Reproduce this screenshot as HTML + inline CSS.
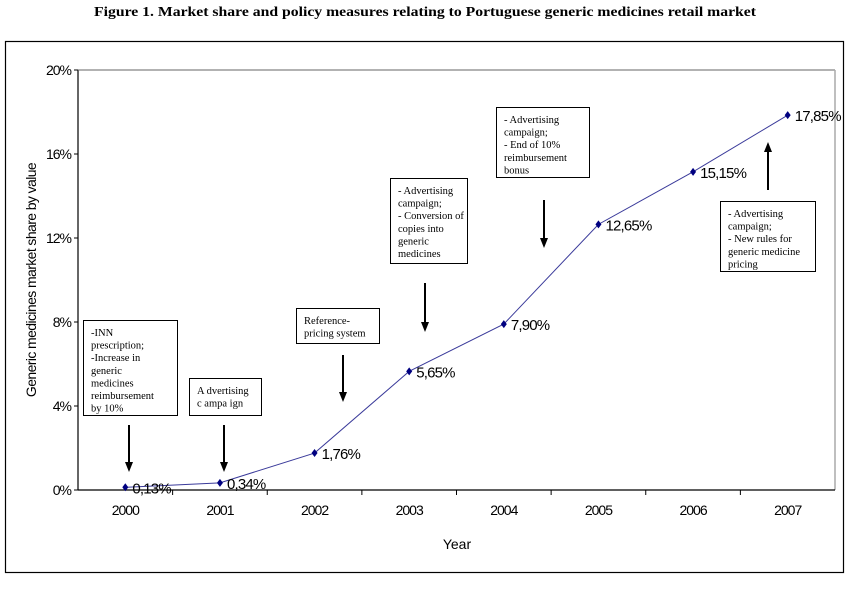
<!DOCTYPE html>
<html><head><meta charset="utf-8"><style>
body{margin:0;background:#fff;width:850px;height:596px;overflow:hidden}
svg text{font-family:"Liberation Sans",sans-serif}
.ser{font-family:"Liberation Serif",serif}
</style></head><body>
<svg id="c" width="850" height="596" xmlns="http://www.w3.org/2000/svg">
<text x="425" y="16" text-anchor="middle" class="ser" font-size="14" font-weight="bold" textLength="662" lengthAdjust="spacingAndGlyphs">Figure 1. Market share and policy measures relating to Portuguese generic medicines retail market</text>
<rect x="5.5" y="41.5" width="838" height="531" fill="none" stroke="#000" stroke-width="1.2"/>
<g id="axes"></g>
<g id="notes"></g>
<g id="series"></g>
</svg>
<script>
const categories=["2000","2001","2002","2003","2004","2005","2006","2007"];
const shareValues=[0.13,0.34,1.76,5.65,7.90,12.65,15.15,17.85];
const valueLabels=["0,13%","0,34%","1,76%","5,65%","7,90%","12,65%","15,15%","17,85%"];
const yTicks=[0,4,8,12,16,20];
const yTickLabels=["0%","4%","8%","12%","16%","20%"];
const NS="http://www.w3.org/2000/svg";
const L=78,R=835,T=70,B=490;
const bw=(R-L)/categories.length;
function xS(i){return L+bw*(i+0.5);}
function yS(v){return B-(v/20)*(B-T);}
function mk(tag,at,parent,txt){const e=document.createElementNS(NS,tag);for(const k in at)e.setAttribute(k,at[k]);if(txt!==undefined)e.textContent=txt;parent.appendChild(e);return e;}
const ax=document.getElementById('axes');
let e=mk('line',{x1:L,y1:T,x2:R,y2:T,stroke:'#999','stroke-width':1.5},ax);


e=mk('line',{x1:R,y1:T,x2:R,y2:B,stroke:'#aaa','stroke-width':1.5},ax);


e=mk('line',{x1:L,y1:T,x2:L,y2:B,stroke:'#666','stroke-width':2},ax);


e=mk('line',{x1:L,y1:B,x2:R,y2:B,stroke:'#000','stroke-width':1.2},ax);


yTicks.forEach((v,i)=>{
 let t=mk('line',{x1:L-4,y1:yS(v),x2:L,y2:yS(v),stroke:'#000'},ax);
 
 
 let l=mk('text',{x:L-7,y:yS(v)+5,'text-anchor':'end','font-size':14,'letter-spacing':'-1'},ax,yTickLabels[i]);
 
 
});
categories.forEach((c,i)=>{
 if(i>0){let t=mk('line',{x1:L+bw*i,y1:B,x2:L+bw*i,y2:B+5,stroke:'#000'},ax);
 
 }
 let l=mk('text',{x:xS(i),y:B+25,'text-anchor':'middle','font-size':14,'letter-spacing':'-1'},ax,c);
 
 
});
e=mk('text',{x:457,y:549,'text-anchor':'middle','font-size':14},ax,'Year');


e=mk('text',{transform:'translate(36,280) rotate(-90)','text-anchor':'middle','font-size':14,'letter-spacing':'-0.6'},ax,'Generic medicines market share by value');


const notes=[
 {x:83,y:320,w:94,h:95,lines:["-INN","prescription;","-Increase in","generic","medicines","reimbursement","by 10%"],ax:129,a1:425,a2:472,dir:1},
 {x:189,y:378,w:72,h:37,lines:["A dvertising","c ampa ign"],ax:224,a1:425,a2:472,dir:1},
 {x:296,y:308,w:83,h:35,lines:["Reference-","pricing system"],ax:343,a1:355,a2:402,dir:1},
 {x:390,y:178,w:77,h:85,lines:["- Advertising","campaign;","- Conversion of","copies into","generic","medicines"],ax:425,a1:283,a2:332,dir:1},
 {x:496,y:107,w:93,h:70,lines:["- Advertising","campaign;","- End of 10%","reimbursement","bonus"],ax:544,a1:200,a2:248,dir:1},
 {x:720,y:201,w:95,h:70,lines:["- Advertising","campaign;","- New rules for","generic medicine","pricing"],ax:768,a1:190,a2:142,dir:-1}
];
const ng=document.getElementById('notes');
notes.forEach(n=>{
 let r=mk('rect',{x:n.x+0.5,y:n.y+0.5,width:n.w,height:n.h,fill:'#fff',stroke:'#000','stroke-width':1},ng);
 
 
 n.lines.forEach((s,j)=>{let t=mk('text',{x:n.x+8,y:n.y+16+j*12.6,'font-size':10.5,class:'ser'},ng,s);
 
 });
 let tip=n.a2, base=n.a1;
 let a=mk('line',{x1:n.ax,y1:base,x2:n.ax,y2:tip-n.dir*8,stroke:'#000','stroke-width':2},ng);
 
 
 let p=mk('polygon',{points:`${n.ax-4},${tip-n.dir*10} ${n.ax+4},${tip-n.dir*10} ${n.ax},${tip}`,fill:'#000'},ng);
 
 
});
const sg=document.getElementById('series');
let pts=shareValues.map((v,i)=>xS(i)+','+yS(v)).join(' ');
e=mk('polyline',{points:pts,fill:'none',stroke:'#3a3a9a','stroke-width':1},sg);


shareValues.forEach((v,i)=>{
 const x=xS(i),y=yS(v);
 let m=mk('polygon',{points:`${x},${y-4} ${x+3},${y} ${x},${y+4} ${x-3},${y}`,fill:'#000080'},sg);
 
 
 let l=mk('text',{x:x+7,y:y+6,'font-size':15,'letter-spacing':'-0.8'},sg,valueLabels[i]);
 
 
});
</script>
</body></html>
